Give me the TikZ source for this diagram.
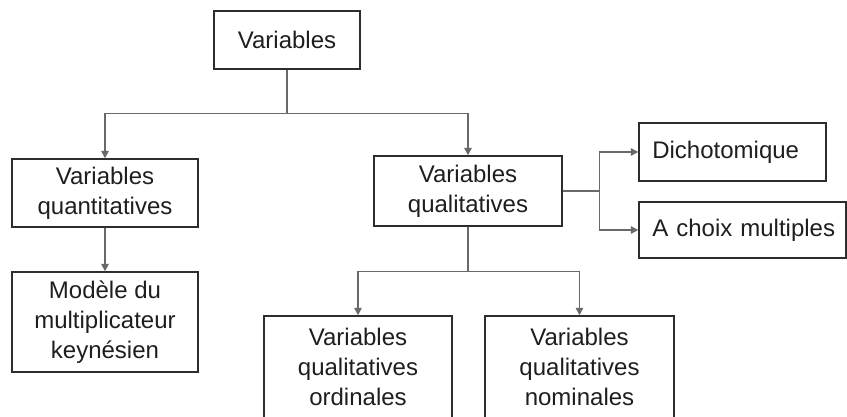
\documentclass[tikz,border=0pt]{standalone}
\usepackage{fontspec}
\setmainfont{Liberation Sans}
\usetikzlibrary{arrows.meta}
\definecolor{BoxEdge}{RGB}{45,45,45}
\definecolor{LinkGray}{RGB}{105,105,105}
\definecolor{LabelInk}{RGB}{30,30,30}

\begin{document}
\begin{tikzpicture}[x=0.75pt,y=-0.75pt,
    box/.style={draw=BoxEdge, line width=1.1pt, align=center, inner sep=0pt,
      text=LabelInk, font=\fontsize{18}{22.3}\selectfont},
    leftbox/.style={box, align=left, inner xsep=10pt},
    link/.style={draw=LinkGray, line width=1.1pt, -{Triangle[length=5.5pt,width=5.5pt]}}]
    % Fixed frame (the lowest boxes are cut by the lower edge)
    \useasboundingbox (0,0) rectangle (847,417);
    % Top level
    \node[box, minimum width=109.5pt, minimum height=43.5pt] (var) at (287,40) {Variables};
    % Second level
    \node[box, minimum width=139.5pt, minimum height=51pt] (quant) at (105,193) {Variables\\quantitatives};
    \node[box, minimum width=141pt, minimum height=52.5pt] (qual) at (468,191) {Variables\\qualitatives};
    % Kinds of qualitative variables
    \node[leftbox, text width=120.25pt, minimum height=43.5pt] (dicho) at (732.5,152) {Dichotomique};
    \node[leftbox, text width=135.25pt, minimum height=42pt] (choix) at (742.5,230) {\mbox{A choix multiples}};
    % Lowest level
    \node[box, minimum width=139.5pt, minimum height=75pt] (keynes) at (105,322) {Modèle du\\multiplicateur\\keynésien};
    \node[box, minimum width=141pt, minimum height=76.5pt] (ordin) at (358,367) {Variables\\qualitatives\\ordinales};
    \node[box, minimum width=141.75pt, minimum height=76.5pt] (nomin) at (579.5,367) {Variables\\qualitatives\\nominales};
    % Connectors
    \draw[link] (var.south) -- ++(0,44) -| (quant.north);
    \draw[link] (var.south) -- ++(0,44) -| (qual.north);
    \draw[link] (quant.south) -- (keynes.north);
    \draw[link] (qual.east) -- ++(37,0) |- (dicho.west);
    \draw[link] (qual.east) -- ++(37,0) |- (choix.west);
    \draw[link] (qual.south) -- ++(0,45) -| (ordin.north);
    \draw[link] (qual.south) -- ++(0,45) -| (nomin.north);
\end{tikzpicture}
\end{document}
